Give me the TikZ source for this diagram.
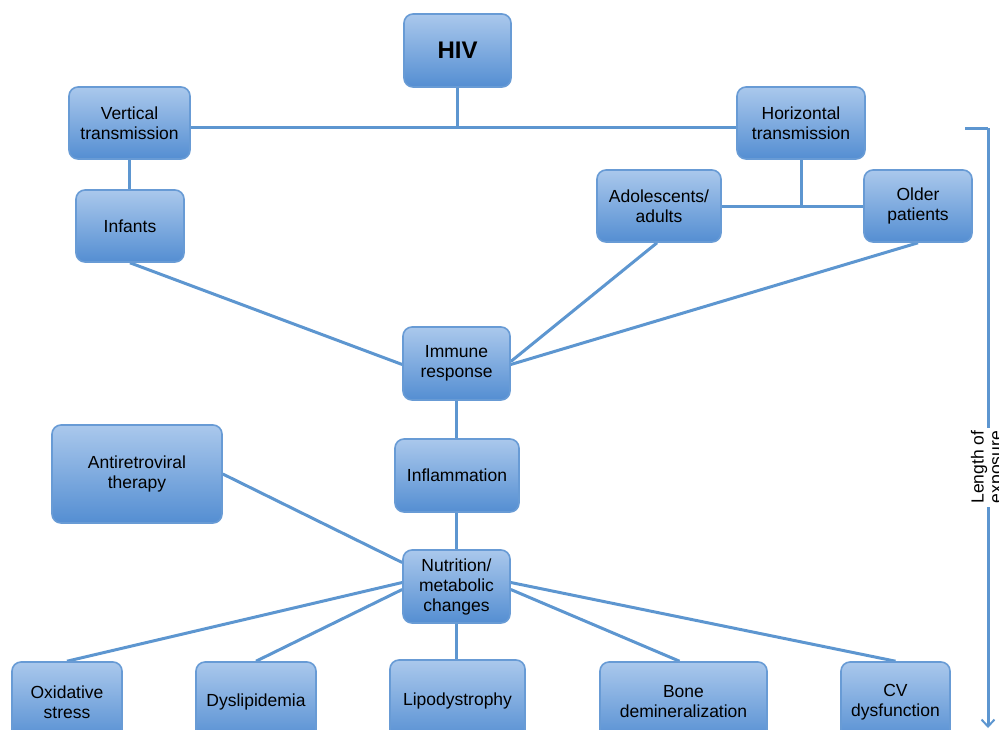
\documentclass[tikz,border=0pt]{standalone}
\usepackage{fontspec}
\setmainfont{Liberation Sans}
\usetikzlibrary{arrows.meta,calc,backgrounds}
\definecolor{linec}{RGB}{93,150,208}
\definecolor{boxtop}{RGB}{170,200,236}
\definecolor{boxbot}{RGB}{84,142,210}
\definecolor{boxedge}{RGB}{104,155,213}
\tikzset{
  box/.style={draw=boxedge, line width=1.6pt, rounded corners=9pt,
    top color=boxtop, bottom color=boxbot, align=center, inner sep=2pt,
    font=\fontsize{17.5}{20}\selectfont, text=black},
  conn/.style={draw=linec, line width=3pt},
}
\begin{document}
\begin{tikzpicture}[x=1pt,y=-1pt]
\useasboundingbox (0,0) rectangle (999,729);
\clip (0,0) rectangle (999,729);
% nodes
\node[box, minimum width=107pt, minimum height=73pt, font=\bfseries\fontsize{24}{26}\selectfont] (hiv) at (457.5,50.5) {HIV};
\node[box, minimum width=121pt, minimum height=72pt] (vt) at (129.5,123) {Vertical\\transmission};
\node[box, minimum width=128pt, minimum height=72pt] (ht) at (801,123) {Horizontal\\transmission};
\node[box, minimum width=108pt, minimum height=72pt] (inf) at (130,226) {Infants};
\node[box, minimum width=124pt, minimum height=72pt] (ado) at (659,206) {Adolescents/\\adults};
\node[box, minimum width=108pt, minimum height=72pt] (old) at (918,206) {Older\\patients};
\node[box, minimum width=107pt, minimum height=73pt] (imm) at (456.5,363.5) {Immune\\response};
\node[box, minimum width=124pt, minimum height=73pt] (infl) at (457,475.5) {Inflammation};
\node[box, minimum width=170pt, minimum height=98pt] (art) at (137,474) {Antiretroviral\\therapy};
\node[box, minimum width=107pt, minimum height=73pt] (nut) at (456.5,586.5) {Nutrition/\\metabolic\\changes};
\node[box, minimum width=110pt, minimum height=80pt] (ox) at (67,702) {Oxidative\\stress};
\node[box, minimum width=120pt, minimum height=80pt] (dys) at (256,702) {Dyslipidemia};
\node[box, minimum width=135pt, minimum height=82pt] (lipo) at (457.5,701) {Lipodystrophy};
\node[box, minimum width=167pt, minimum height=80pt] (bone) at (683.5,702) {Bone\\demineralization};
\node[box, minimum width=109pt, minimum height=80pt] (cv) at (895.5,702) {CV\\dysfunction};
% connectors (behind the boxes)
\coordinate (j1) at (457.5,127);
\coordinate (j2) at (801,206);
\begin{pgfonlayer}{background}
\draw[conn] (hiv.south) -- (j1);
\draw[conn] ([yshift=-4pt]vt.east) -- ([yshift=-4pt]ht.west);
\draw[conn] (vt.south) -- (inf.north -| vt.south);
\draw[conn] (ht.south) -- (j2);
\draw[conn] (ado.east) -- (old.west);
\draw[conn] (inf.south) -- ([yshift=-1pt]imm.west);
\draw[conn] ([xshift=-2pt]ado.south) -- ([yshift=2pt]imm.east);
\draw[conn] (old.south) -- ([yshift=-1pt]imm.east);
\draw[conn] (imm.south) -- (infl.north -| imm.south);
\draw[conn] (infl.south -| nut.north) -- (nut.north);
\draw[conn] (art.east) -- ([yshift=24pt]nut.west);
\draw[conn] ([yshift=4pt]nut.west) -- (ox.north);
\draw[conn] ([yshift=-3pt]nut.west) -- (dys.north);
\draw[conn] (nut.south) -- (lipo.north -| nut.south);
\draw[conn] ([yshift=-3pt]nut.east) -- ([xshift=-4pt]bone.north);
\draw[conn] ([yshift=4pt]nut.east) -- (cv.north);
\end{pgfonlayer}
% length of exposure arrow
\coordinate (tk) at (965,128);
\coordinate (at) at (988,128);
\coordinate (ab) at (988,728);
\draw[conn] (tk) -- (at);
\draw[conn, -{Straight Barb[length=7pt,width=13pt,line width=2pt]}] (at) -- (ab);
\node[rotate=90, fill=white, align=center, inner sep=3pt, font=\fontsize{17.5}{18}\selectfont] (lab) at (988,467) {Length of\\exposure};
\end{tikzpicture}
\end{document}
